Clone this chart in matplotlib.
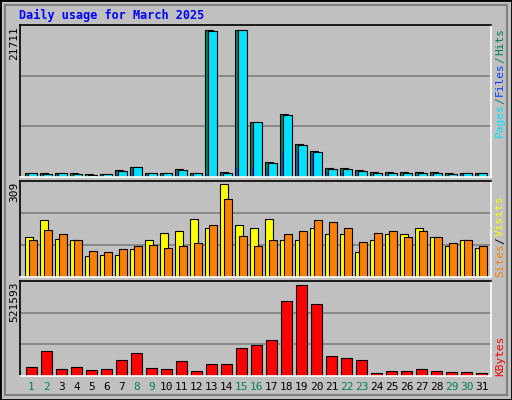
import matplotlib
matplotlib.use("Agg")
import matplotlib.pyplot as plt
import numpy as np

days = list(range(1, 32))
weekend_days = [1, 2, 8, 9, 15, 16, 22, 23, 29, 30]

hits = [540, 640, 640, 540, 390, 390, 980, 1420, 540, 640, 1130, 540, 21711, 690,
        21711, 8050, 2160, 9230, 4810, 3780, 1280, 1280, 980, 690, 690, 690, 690, 690,
        540, 540, 540]
files = [540, 390, 640, 390, 250, 390, 830, 1420, 540, 540, 980, 540, 21560, 540,
         21711, 8050, 2010, 9080, 4660, 3630, 1130, 1130, 830, 540, 540, 540, 540, 540,
         390, 540, 540]
pages = [300, 200, 300, 200, 150, 200, 500, 700, 300, 300, 600, 300, 390, 300,
         1280, 1420, 900, 3780, 3780, 3500, 700, 700, 500, 300, 300, 300, 300, 300,
         200, 300, 300]
visits = [135, 189, 128, 122, 71, 75, 75, 95, 122, 148, 152, 195, 162, 309, 172, 162,
          192, 125, 122, 165, 142, 142, 85, 125, 145, 145, 162, 132, 105, 122, 98]
sites = [125, 158, 142, 125, 88, 85, 95, 102, 108, 98, 105, 115, 175, 259, 138, 105,
         125, 142, 155, 189, 185, 162, 118, 148, 152, 135, 152, 135, 112, 122, 102]
kbytes = [53300, 144700, 41900, 53300, 36200, 41900, 93300, 133300, 47600, 41900,
          87600, 30500, 70400, 70400, 161800, 178900, 207500, 430200, 521593, 413100,
          116100, 104700, 93300, 19000, 30500, 30500, 41900, 30500, 24700, 24700, 19000]

W, H = 512, 400
BG = "#c0c0c0"
fig = plt.figure(figsize=(W / 100, H / 100), dpi=100, facecolor=BG)
mono = "DejaVu Sans Mono"

# outer frame
fig.patches.append(plt.Rectangle((0, 0), 1, 1, transform=fig.transFigure, fill=False,
                                 edgecolor="black", lw=2))
fig.patches.append(plt.Rectangle((5 / W, 5 / H), 1 - 10 / W, 1 - 10 / H, transform=fig.transFigure,
                                 fill=False, edgecolor="#808080", lw=1.5))

def panel(top, bottom):
    ax = fig.add_axes([20 / W, 1 - bottom / H, 471 / W, (bottom - top) / H])
    ax.set_facecolor(BG)
    ax.set_xlim(0.23, 31.63)
    ax.set_xticks([])
    ax.set_yticks([])
    for s in ax.spines.values():
        s.set_linewidth(1.2)
    ax.spines["right"].set_color("white")
    ax.spines["bottom"].set_color("white")
    return ax

px = 1 / 15.0
x = np.array(days, dtype=float)

# top panel
ax1 = panel(25, 177)
top1 = 21711 * 456 / 442
ax1.set_ylim(0, top1)
for f in (1 / 3, 2 / 3):
    ax1.axhline(top1 * f, color="#808080", lw=1.2, zorder=0)
ax1.bar(x - 6.5 * px, hits, width=8 * px, align="edge", color="#00805c", edgecolor="black", lw=0.8)
ax1.bar(x - 4.5 * px, pages, width=2 * px, align="edge", color="#0040ff", edgecolor="none")
ax1.bar(x - 3.5 * px, files, width=9 * px, align="edge", color="#00e0ff", edgecolor="black", lw=0.8)

# middle panel
ax2 = panel(181, 277)
top2 = 309 * 287 / 277
ax2.set_ylim(0, top2)
for f in (1 / 3, 2 / 3):
    ax2.axhline(top2 * f, color="#808080", lw=1.2, zorder=0)
ax2.bar(x - 6.5 * px, visits, width=8 * px, align="edge", color="#ffff00", edgecolor="black", lw=0.8)
ax2.bar(x - 2.5 * px, sites, width=8 * px, align="edge", color="#ff8000", edgecolor="black", lw=0.8)

# bottom panel
ax3 = panel(281, 376)
top3 = 521593 * 287 / 274
ax3.set_ylim(0, top3)
for f in (1 / 3, 2 / 3):
    ax3.axhline(top3 * f, color="#808080", lw=1.2, zorder=0)
ax3.bar(x - 5.5 * px, kbytes, width=11 * px, align="edge", color="#ff0000", edgecolor="black", lw=0.8)

for d in days:
    ax3.text(d, -0.06, str(d), transform=ax3.get_xaxis_transform(), ha="center", va="top",
             fontsize=8, family=mono, color="#00805c" if d in weekend_days else "black")

fig.text(19 / W, 1 - 15 / H, "Daily usage for March 2025", color="#0000ff", fontsize=8.5,
         family=mono, fontweight="bold", va="center")

# y max labels
def ylab(y_top, s):
    fig.text(14 / W, 1 - y_top / H, s, rotation=90, ha="center", va="top", fontsize=8, family=mono)

ylab(26, str(max(hits)))
ylab(182, str(max(visits)))
ylab(282, str(max(kbytes)))

# right side legends, bottom-to-top
def legend(y_bottom, parts):
    y = y_bottom
    for s, c in parts:
        fig.text(500 / W, 1 - y / H, s, rotation=90, ha="center", va="bottom", fontsize=8,
                 family=mono, color=c)
        y -= len(s) * 6.2 + 2

legend(137, [("Pages", "#00e0ff"), ("/", "#00805c"), ("Files", "#0040ff"),
             ("/", "#00805c"), ("Hits", "#00805c")])
legend(277, [("Sites", "#ff8000"), ("/", "black"), ("Visits", "#ffff00")])
legend(376, [("KBytes", "#ff0000")])

fig.savefig("out.png", dpi=100, facecolor=BG)
